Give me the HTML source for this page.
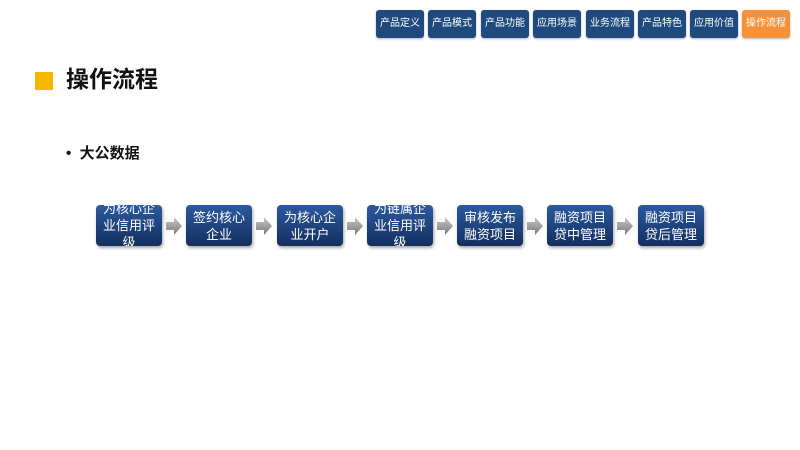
<!DOCTYPE html>
<html><head><meta charset="utf-8"><style>
body{margin:0;width:800px;height:450px;background:#fff;position:relative;overflow:hidden;font-family:"Liberation Sans","Noto Sans CJK SC",sans-serif}
.tab{position:absolute;top:10px;width:48px;height:28px;background:#1f4a7e;border-radius:3px;color:#fff;font-size:10px;line-height:28px;text-align:center;box-shadow:0 1px 2px rgba(0,0,0,.3)}
.box{position:absolute;top:205px;width:66px;height:41px;border-radius:4px;background:linear-gradient(#2c5aa0,#132f5e);color:#fff;font-size:13px;line-height:17px;text-align:center;display:flex;align-items:center;justify-content:center;overflow:hidden;box-shadow:1px 2px 3px rgba(0,0,0,.35)}
</style></head><body>
<div class="tab" style="left:376px">产品定义</div>
<div class="tab" style="left:428px">产品模式</div>
<div class="tab" style="left:481px">产品功能</div>
<div class="tab" style="left:533px">应用场景</div>
<div class="tab" style="left:586px">业务流程</div>
<div class="tab" style="left:638px">产品特色</div>
<div class="tab" style="left:690px">应用价值</div>
<div class="tab" style="left:742px;background:#f5913a">操作流程</div>
<div style="position:absolute;left:35px;top:72px;width:18px;height:18px;background:#f5b800"></div>
<div style="position:absolute;left:66px;top:65px;font-size:23px;font-weight:bold;color:#111;line-height:28px">操作流程</div>
<div style="position:absolute;left:66px;top:144px;font-size:15px;font-weight:bold;color:#111;line-height:20px">•&nbsp; 大公数据</div>
<div class="box" style="left:96px">为核心企<br>业信用评<br>级</div>
<div class="box" style="left:186px">签约核心<br>企业</div>
<div class="box" style="left:277px">为核心企<br>业开户</div>
<div class="box" style="left:367px">为链属企<br>业信用评<br>级</div>
<div class="box" style="left:457px">审核发布<br>融资项目</div>
<div class="box" style="left:547px">融资项目<br>贷中管理</div>
<div class="box" style="left:638px">融资项目<br>贷后管理</div>
<svg style="position:absolute;left:0;top:0" width="800" height="450">
<defs><linearGradient id="g" x1="0" y1="0" x2="0" y2="1"><stop offset="0" stop-color="#c8c8c8"/><stop offset="1" stop-color="#7a7a7a"/></linearGradient></defs>
<g fill="url(#g)">
<path d="M166,222h8v-5l8,9l-8,9v-5h-8z"/>
<path d="M256,222h8v-5l8,9l-8,9v-5h-8z"/>
<path d="M347,222h8v-5l8,9l-8,9v-5h-8z"/>
<path d="M437,222h8v-5l8,9l-8,9v-5h-8z"/>
<path d="M527,222h8v-5l8,9l-8,9v-5h-8z"/>
<path d="M617,222h8v-5l8,9l-8,9v-5h-8z"/>
</g></svg>
</body></html>
